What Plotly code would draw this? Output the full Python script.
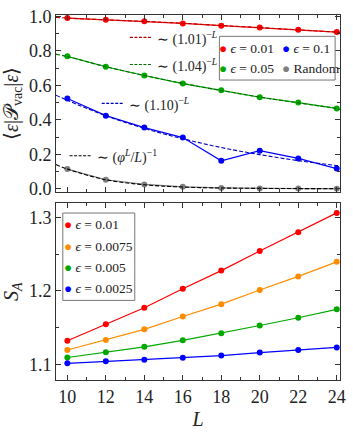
import plotly.graph_objects as go
from plotly.subplots import make_subplots

# data
L = [10, 12, 14, 16, 18, 20, 22, 24]
vac_001 = [0.990, 0.980, 0.972, 0.959, 0.946, 0.935, 0.922, 0.909]
vac_01 = [0.524, 0.424, 0.355, 0.297, 0.162, 0.221, 0.176, 0.117]
vac_005 = [0.768, 0.708, 0.657, 0.610, 0.571, 0.531, 0.500, 0.466]
vac_rand = [0.114, 0.052, 0.025, 0.011, 0.005, 0.002, 0.001, 0.0005]

fit_L = [9.4, 10, 12, 14, 16, 18, 20, 22, 24, 24.2]
fit_001 = [0.994, 0.990, 0.980, 0.971, 0.960, 0.947, 0.935, 0.922, 0.909, 0.908]
fit_005 = [0.781, 0.767, 0.708, 0.657, 0.611, 0.570, 0.532, 0.498, 0.465, 0.460]
fit_01 = [0.543, 0.513, 0.424, 0.350, 0.290, 0.239, 0.198, 0.163, 0.135, 0.133]
fit_rand = [0.140, 0.114, 0.052, 0.023, 0.010, 0.0044, 0.002, 0.001, 0.0004, 0.0003]

sa_001 = [1.1324, 1.1548, 1.1771, 1.2030, 1.2276, 1.2543, 1.2797, 1.3060]
sa_00075 = [1.1197, 1.1333, 1.1478, 1.1653, 1.1820, 1.2013, 1.2197, 1.2395]
sa_0005 = [1.1096, 1.1166, 1.1241, 1.1329, 1.1425, 1.1530, 1.1636, 1.1750]
sa_00025 = [1.1017, 1.1043, 1.1066, 1.1092, 1.1122, 1.1162, 1.1197, 1.1232]

RED, GREEN, BLUE, GRAY, ORANGE = '#ff0000', '#00a800', '#0000ff', '#7f7f7f', '#ff8c00'
FONT = 'Liberation Serif'
W, H = 353, 434
ML, MR, MT, MB = 54, 7, 9, 49


def px(x):
    return (x - ML) / (W - ML - MR)


def py(y):
    return (H - MB - y) / (H - MT - MB)


fig = make_subplots(rows=2, cols=1, vertical_spacing=0.03)

# top panel
top = [(vac_001, fit_001, RED, '#b00000'),
       (vac_005, fit_005, GREEN, '#006e00'),
       (vac_01, fit_01, BLUE, '#0000c0'),
       (vac_rand, fit_rand, GRAY, 'black')]
for vals, fit, c, fc in top:
    fig.add_trace(go.Scatter(x=L, y=vals, mode='lines+markers', line=dict(color=c, width=1.2),
                             marker=dict(color=c, size=6), showlegend=False), row=1, col=1)
    fig.add_trace(go.Scatter(x=fit_L, y=fit, mode='lines', line=dict(color=fc, width=1.1, dash='4px,2px', shape='spline'),
                             showlegend=False), row=1, col=1)

# bottom panel
for vals, c in [(sa_001, RED), (sa_00075, ORANGE), (sa_0005, GREEN), (sa_00025, BLUE)]:
    fig.add_trace(go.Scatter(x=L, y=vals, mode='lines+markers', line=dict(color=c, width=1.2),
                             marker=dict(color=c, size=6), showlegend=False), row=2, col=1)

axis_style = dict(showline=True, linecolor='#333', linewidth=1, mirror='allticks', ticks='inside',
                  ticklen=5, tickcolor='#333', showgrid=False, zeroline=False, ticklabeloverflow='allow',
                  tickfont=dict(family=FONT, size=18, color='#222'))
fig.update_xaxes(**axis_style, range=[9.41, 24.17], dtick=2, tick0=10,
                 minor=dict(ticks='inside', ticklen=3, dtick=1, tickcolor='#333'))
fig.update_xaxes(showticklabels=False, row=1, col=1)
fig.update_xaxes(title=dict(text='<i>L</i>', font=dict(family=FONT, size=20, color='#222'), standoff=6), row=2, col=1)
fig.update_yaxes(**axis_style)
fig.update_yaxes(range=[-0.017, 1.008], dtick=0.2, tickformat='.1f',
                 minor=dict(ticks='inside', ticklen=3, dtick=0.1, tickcolor='#333'),
                 domain=[py(191), 1],
                 title=dict(text='⟨<i>ε</i>|𝒫<sub>vac</sub>|<i>ε</i>⟩', font=dict(family=FONT, size=20, color='#222'), standoff=6),
                 row=1, col=1)
fig.update_yaxes(range=[1.079, 1.319], dtick=0.1, tickformat='.1f',
                 minor=dict(ticks='inside', ticklen=3, dtick=0.05, tickcolor='#333'),
                 domain=[0, py(203)],
                 title=dict(text='<i>S</i><sub><i>A</i></sub>', font=dict(family=FONT, size=20, color='#222'), standoff=8),
                 row=2, col=1)

shapes = []
annotations = []

# fit labels in the top panel
fit_labels = [(130, 153, 32, '#b00000', '∼ (1.01)<sup>−<i>L</i></sup>'),
              (130, 153, 60, '#006e00', '∼ (1.04)<sup>−<i>L</i></sup>'),
              (101, 124, 100, '#0000c0', '∼ (1.10)<sup>−<i>L</i></sup>'),
              (68, 91, 154, 'black', '∼ (<i>φ</i><sup><i>L</i></sup>/<i>L</i>)<sup>−1</sup>')]
for x0, x1, y, c, txt in fit_labels:
    shapes.append(dict(type='line', xref='paper', yref='paper', x0=px(x0), x1=px(x1), y0=py(y), y1=py(y),
                       line=dict(color=c, width=1.1, dash='3px,1.5px')))
    annotations.append(dict(xref='paper', yref='paper', x=px(x1 + 3), y=py(y + 1), xanchor='left', yanchor='middle',
                            text=txt, showarrow=False, font=dict(family=FONT, size=14, color='#222')))

# top legend box
shapes.append(dict(type='rect', xref='paper', yref='paper', x0=px(222), x1=px(341), y0=py(76), y1=py(31),
                   line=dict(color='#777', width=1), fillcolor='white', layer='above'))
top_legend = [(220, 44, RED, '<i>ϵ</i> = 0.01'), (284, 44, BLUE, '<i>ϵ</i> = 0.1'),
              (220, 64, GREEN, '<i>ϵ</i> = 0.05'), (284, 64, GRAY, 'Random')]
for x, y, c, txt in top_legend:
    annotations.append(dict(xref='paper', yref='paper', x=px(x), y=py(y), xanchor='left', yanchor='middle',
                            text=f"<span style='color:{c}'>●</span> {txt}", showarrow=False,
                            font=dict(family=FONT, size=13.5, color='#222')))

# bottom legend box
shapes.append(dict(type='rect', xref='paper', yref='paper', x0=px(61), x1=px(135), y0=py(303), y1=py(213),
                   line=dict(color='#777', width=1), fillcolor='white', layer='above'))
bot_legend = [(225, RED, '<i>ϵ</i> = 0.01'), (247, ORANGE, '<i>ϵ</i> = 0.0075'),
              (269, GREEN, '<i>ϵ</i> = 0.005'), (291, BLUE, '<i>ϵ</i> = 0.0025')]
for y, c, txt in bot_legend:
    annotations.append(dict(xref='paper', yref='paper', x=px(60), y=py(y), xanchor='left', yanchor='middle',
                            text=f"<span style='color:{c}'>●</span> {txt}", showarrow=False,
                            font=dict(family=FONT, size=13.5, color='#222')))

fig.update_layout(width=W, height=H, margin=dict(l=ML, r=MR, t=MT, b=MB),
                  paper_bgcolor='white', plot_bgcolor='white',
                  shapes=shapes, annotations=annotations, showlegend=False)

fig.write_html("out.html", config={'displayModeBar': False},
               post_script="document.body.style.margin='0';")
